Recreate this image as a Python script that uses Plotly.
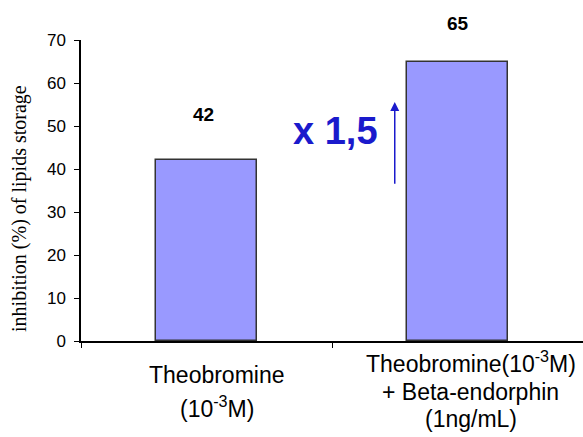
import plotly.graph_objects as go

# Data
categories = ["Theobromine", "Theobromine + Beta-endorphin"]
inhibition = [42, 65]
value_labels = ["42", "65"]
category_lines = [
    ["Theobromine", "(10<sup>-3</sup>M)"],
    ["Theobromine(10<sup>-3</sup>M)", "+ Beta-endorphin", "(1ng/mL)"],
]
fold_text = "x 1,5"
y_title = "inhibition (%) of lipids storage"

W, H = 583, 437
M_L, M_R, M_T, M_B = 81, 0, 39.5, 95.5
plot_w = W - M_L - M_R
plot_h = H - M_T - M_B

SANS = "Liberation Sans, Arial, sans-serif"
SERIF = "Liberation Serif, Times New Roman, serif"
BLUE = "#1a1acc"


def px_x(px):
    """Horizontal pixel position -> paper coordinate."""
    return (px - M_L) / plot_w


def px_y(py):
    """Vertical pixel position -> paper coordinate."""
    return (H - M_B - py) / plot_h


fig = go.Figure()
fig.add_trace(go.Bar(
    x=list(range(len(categories))),
    y=inhibition,
    width=0.4,
    marker=dict(color="#9999ff", line=dict(color="#333333", width=1.5)),
    hoverinfo="skip",
))

annotations = []

# value labels above each bar
label_offsets = [46, 38]
for i, (v, txt) in enumerate(zip(inhibition, value_labels)):
    annotations.append(dict(
        x=i, y=v, xref="x", yref="y", text=f"<b>{txt}</b>", showarrow=False,
        xshift=-3 if i == 0 else 0, yshift=label_offsets[i],
        font=dict(family=SANS, size=19, color="black"),
    ))

# category labels below the axis, one annotation per line
line_pixels = [[376, 408], [363, 393, 420]]
for i, lines in enumerate(category_lines):
    for j, ln in enumerate(lines):
        annotations.append(dict(
            x=i, y=px_y(line_pixels[i][j]), xref="x", yref="paper",
            text=ln, showarrow=False, xshift=10 if i == 0 else 13,
            yanchor="middle", xanchor="center",
            font=dict(family=SANS, size=23, color="black"),
        ))

# vertical axis title
annotations.append(dict(
    x=px_x(20), y=px_y(209), xref="paper", yref="paper", text=y_title,
    textangle=-90, showarrow=False, xanchor="center", yanchor="middle",
    font=dict(family=SERIF, size=20, color="black"),
))

# fold-change text and arrow between the bars
annotations.append(dict(
    x=0.512, y=48.8, xref="x", yref="y", text=f"<b>{fold_text}</b>",
    showarrow=False, font=dict(family=SANS, size=38, color=BLUE),
))
annotations.append(dict(
    x=0.75, y=55.6, xref="x", yref="y", ax=0.75, ay=36.2, axref="x", ayref="y",
    text="", showarrow=True, arrowhead=2, arrowsize=1.2, arrowwidth=1.5,
    arrowcolor=BLUE,
))

fig.update_layout(
    width=W, height=H,
    margin=dict(l=M_L, r=M_R, t=M_T, b=M_B, pad=0),
    paper_bgcolor="white", plot_bgcolor="white",
    showlegend=False,
    annotations=annotations,
    bargap=0,
)
fig.update_xaxes(
    range=[-0.5, 1.5], tickmode="array", tickvals=[-0.5, 0.5, 1.5],
    showticklabels=False, ticks="outside", ticklen=5, tickcolor="black",
    showline=True, linecolor="black", linewidth=1.5, showgrid=False,
    zeroline=False,
)
fig.update_yaxes(
    range=[0, 70], dtick=10, ticks="outside", ticklen=5, tickcolor="black",
    showline=True, linecolor="black", linewidth=1.5, showgrid=False,
    zeroline=False, ticklabelstandoff=5,
    tickfont=dict(family=SANS, size=17, color="black"),
)

fig.write_html("out.html")
